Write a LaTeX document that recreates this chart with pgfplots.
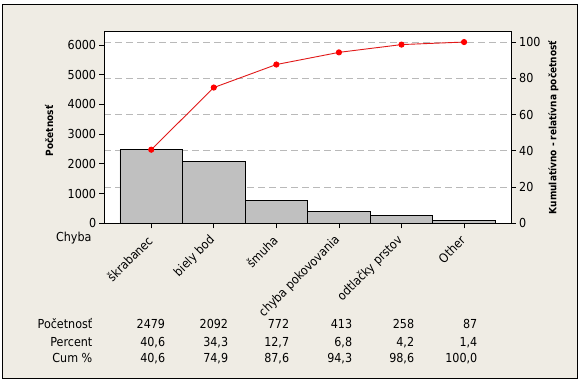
\documentclass[border=0pt]{standalone}
\usepackage{pgfplots}
\pgfplotsset{compat=1.18}
\usepackage{fontspec}
\setmainfont{DejaVu Sans Condensed}
\definecolor{bgbeige}{RGB}{239,236,228}
\definecolor{bargray}{RGB}{192,192,192}
\definecolor{gridgray}{RGB}{185,185,185}
\definecolor{linered}{RGB}{225,25,25}
\pgfplotsset{myax/.style={at={(104.3bp,160.7bp)}, anchor=south west, scale only axis,
  width=406.7bp, height=192.3bp, xmin=0.25, xmax=6.75}}
\begin{document}
\fontsize{12.4bp}{15bp}\selectfont
\begin{tikzpicture}
\path[use as bounding box] (0bp,0bp) rectangle (582bp,384bp);
\fill[white] (0bp,0bp) rectangle (582bp,384bp);
\draw[fill=bgbeige, line width=1bp] (2bp,5.5bp) rectangle (577.5bp,379bp);
% axis 1: percent scale, grid and right ticks
\begin{axis}[myax, ymin=0, ymax=106.1,
  axis background/.style={fill=white},
  xtick=\empty, ytick={0,20,40,60,80,100}, ytick pos=right,
  ymajorgrids, grid style={gridgray, dash pattern=on 7bp off 4bp, line width=0.8bp},
  tick align=outside, major tick length=5bp,
  tick style={black, line width=0.8bp},
  axis line style={line width=0.8bp},
  yticklabel style={inner sep=0pt, xshift=3bp},
  /pgf/number format/assume math mode=true,
]
\end{axis}
% axis 2: counts, bars
\begin{axis}[myax, ymin=0, ymax=6470,
  ytick={0,1000,2000,3000,4000,5000,6000}, ytick pos=left,
  xtick={1,2,3,4,5,6}, xtick pos=bottom,
  xticklabels={škrabanec, biely bod, šmuha, chyba pokovovania, odtlačky prstov, Other},
  xticklabel style={xshift=-1bp, yshift=-10bp, rotate=45, anchor=east, inner sep=0pt},
  yticklabel style={inner sep=0pt, xshift=-3bp},
  tick align=outside, major tick length=5bp,
  tick style={black, line width=0.8bp},
  axis line style={line width=0.8bp},
  /pgf/number format/assume math mode=true,
  /pgf/number format/1000 sep={},
  ybar, bar width=1,
]
\addplot[fill=bargray, draw=black, line width=0.8bp, bar shift=0pt]
  coordinates {(1,2479) (2,2092) (3,772) (4,413) (5,258) (6,87)};
\end{axis}
% axis 3: cumulative percent line
\begin{axis}[myax, ymin=0, ymax=106.1, hide axis]
\addplot[linered, line width=0.9bp, mark=*, mark size=2.6bp,
  mark options={fill=red, draw=red}]
  coordinates {(1,40.6) (2,74.9) (3,87.6) (4,94.3) (5,98.6) (6,100.0)};
\end{axis}
% axis titles
\node[rotate=90, font=\fontsize{10bp}{12bp}\selectfont\bfseries] at (49bp,253bp) {Početnosť};
\node[rotate=90, font=\fontsize{10bp}{12bp}\selectfont\bfseries] at (553.3bp,256.5bp) {Kumulatívno - relatívna početnosť};
\node[anchor=base east, inner sep=0pt] at (91.7bp,142.3bp) {Chyba};
% table
\node[anchor=base east, inner sep=0pt] at (92.5bp,55.7bp) {Početnosť};
\node[anchor=base east, inner sep=0pt] at (92.5bp,37.3bp) {Percent};
\node[anchor=base east, inner sep=0pt] at (92.5bp,21.7bp) {Cum \%};
\node[anchor=base east, inner sep=0pt] at (165.3bp,55.7bp) {2479};
\node[anchor=base east, inner sep=0pt] at (228.3bp,55.7bp) {2092};
\node[anchor=base east, inner sep=0pt] at (289.3bp,55.7bp) {772};
\node[anchor=base east, inner sep=0pt] at (352.3bp,55.7bp) {413};
\node[anchor=base east, inner sep=0pt] at (414.3bp,55.7bp) {258};
\node[anchor=base east, inner sep=0pt] at (477.5bp,55.7bp) {87};
\node[anchor=base east, inner sep=0pt] at (165.3bp,37.3bp) {40,6};
\node[anchor=base east, inner sep=0pt] at (228.3bp,37.3bp) {34,3};
\node[anchor=base east, inner sep=0pt] at (289.3bp,37.3bp) {12,7};
\node[anchor=base east, inner sep=0pt] at (352.3bp,37.3bp) {6,8};
\node[anchor=base east, inner sep=0pt] at (414.3bp,37.3bp) {4,2};
\node[anchor=base east, inner sep=0pt] at (477.5bp,37.3bp) {1,4};
\node[anchor=base east, inner sep=0pt] at (165.3bp,21.7bp) {40,6};
\node[anchor=base east, inner sep=0pt] at (228.3bp,21.7bp) {74,9};
\node[anchor=base east, inner sep=0pt] at (289.3bp,21.7bp) {87,6};
\node[anchor=base east, inner sep=0pt] at (352.3bp,21.7bp) {94,3};
\node[anchor=base east, inner sep=0pt] at (414.3bp,21.7bp) {98,6};
\node[anchor=base east, inner sep=0pt] at (477.5bp,21.7bp) {100,0};
\end{tikzpicture}
\end{document}
